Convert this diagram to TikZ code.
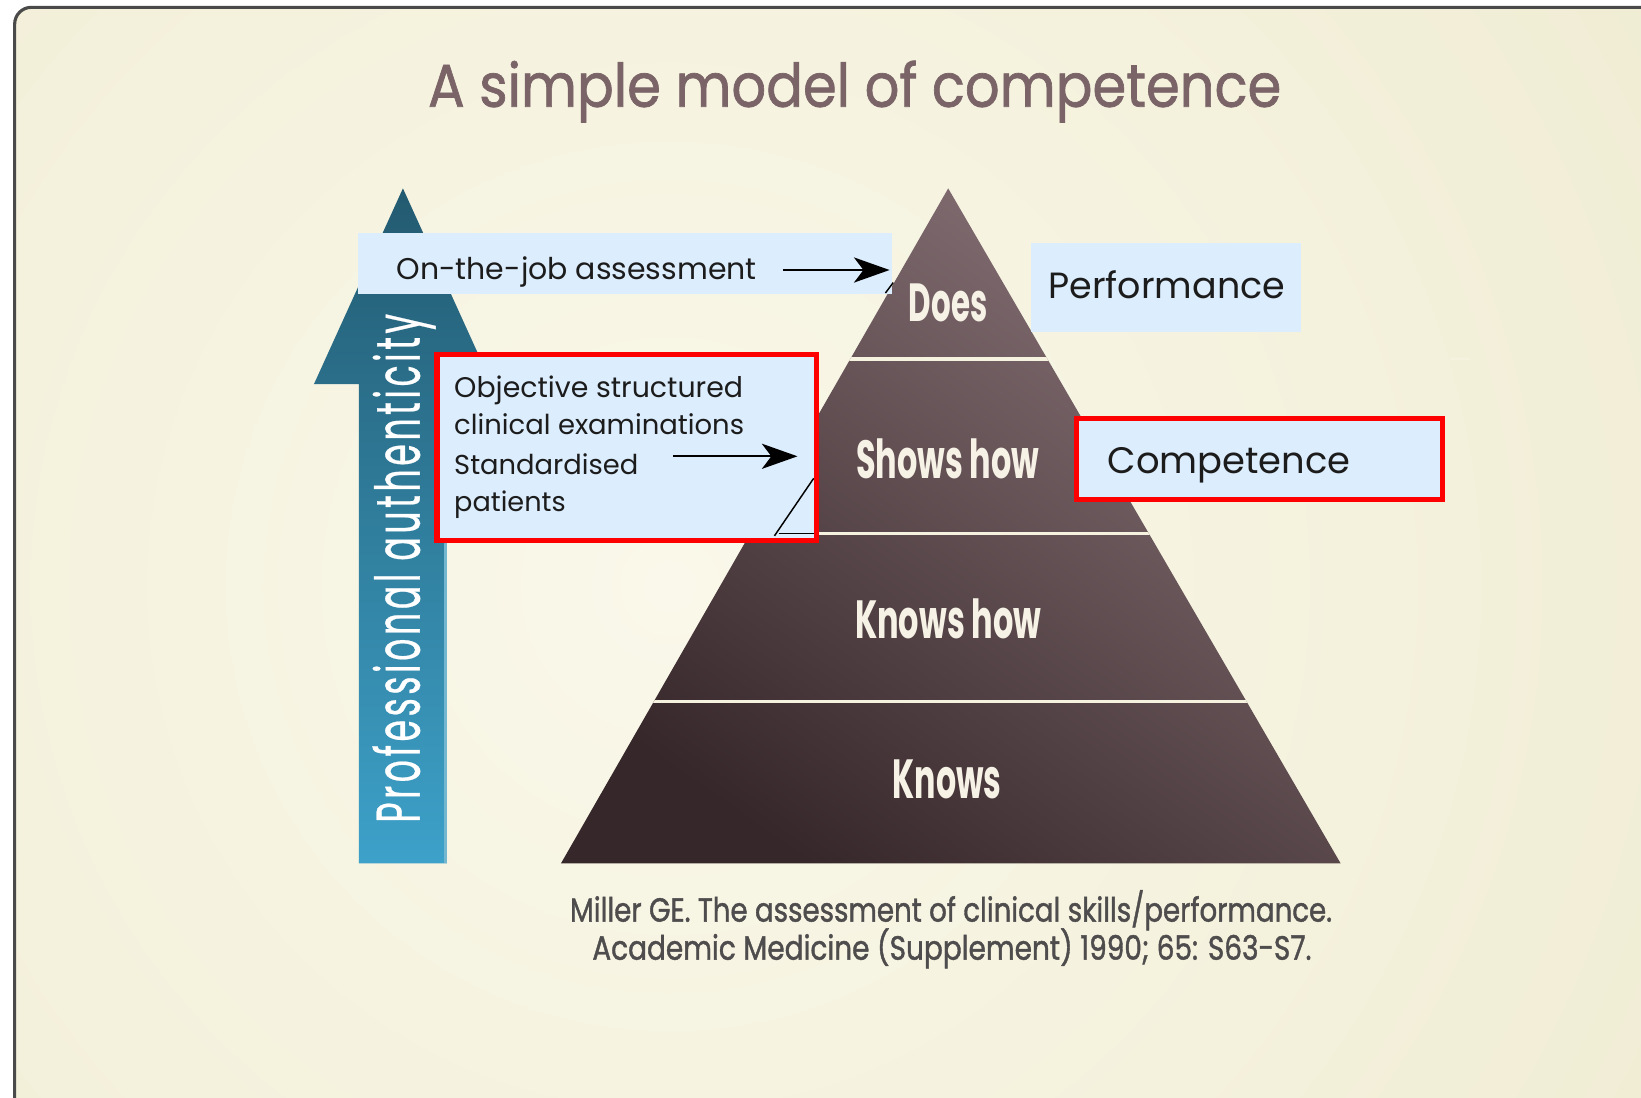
\documentclass[tikz,border=0pt]{standalone}
\usepackage{graphicx}
\usepackage{fontspec}
\setmainfont{Poppins}
\newfontfamily\popp{Poppins}
\newfontfamily\poppls[LetterSpace=10,FakeBold=0.6]{Poppins}
\newfontfamily\popptitle[FakeBold=1.2]{Poppins}
\newfontfamily\poppcite[FakeBold=1.4]{Poppins}
\usetikzlibrary{arrows.meta}
\definecolor{bgA}{HTML}{FAF8EA}
\definecolor{bgB}{HTML}{E8E3C2}
\definecolor{frameC}{HTML}{4A4A4A}
\definecolor{titleC}{HTML}{7A6468}
\definecolor{boxC}{HTML}{DCEDFD}
\definecolor{pyrDark}{HTML}{36272A}
\definecolor{pyrLight}{HTML}{877276}
\definecolor{sepC}{HTML}{F6F2E0}
\definecolor{arrTop}{HTML}{235A70}
\definecolor{arrBot}{HTML}{3DA1C9}
\definecolor{arrStrip}{HTML}{72B6D0}
\definecolor{citeC}{HTML}{4E4C4C}
\definecolor{lblC}{HTML}{F6F2E6}
\definecolor{txtC}{HTML}{1C1C1C}
\definecolor{redC}{HTML}{FF0000}
\newcommand\fitwh[3]{\resizebox{#1}{#2}{#3}}
\newcommand\fitw[2]{\resizebox{#1}{!}{#2}}
\begin{document}
\begin{tikzpicture}[x=1pt,y=-1pt,
  txt/.style={inner sep=0pt, outer sep=0pt, anchor=base west},
  boxtxt/.style={txt, text=txtC, font=\popp},
  lbl/.style={txt, text=lblC, font=\popp\bfseries},
  cite/.style={txt, text=citeC, font=\poppcite},
  bluebox/.style={fill=boxC, draw=none, inner sep=0pt, outer sep=0pt},
  redbox/.style={fill=boxC, draw=redC, line width=5pt, inner sep=0pt, outer sep=0pt},
  arr/.style={-{Stealth[length=34pt,width=24pt,inset=9pt]}, line width=2pt, black},
  outline/.style={black, line width=1.4pt}]
\useasboundingbox (0,0) rectangle (1568,1049);
\fill[white] (0,0) rectangle (1568,1049);
% background with frame
\begin{scope}
\clip[rounded corners=16pt] (14,7) rectangle (1700,1200);
\shade[inner color=bgA, outer color=bgB] (640,560) circle (2000pt);
\end{scope}
\draw[frameC, line width=3pt, rounded corners=16pt] (14,7) rectangle (1700,1200);
% title
\node[txt, text=titleC, font=\popptitle] (title) at (409,102) {\fitwh{815pt}{44pt}{A simple model of competence}};
% authenticity arrow
\shade[top color=arrTop, bottom color=arrBot] (385,180) -- (470,367) -- (427,367) -- (427,825) -- (343,825) -- (343,367) -- (300,367) -- cycle;
\fill[arrStrip] (424,367) rectangle (427,825);
\node[txt, rotate=90, text=white, font=\poppls] (auth) at (401,786) {\fitwh{486pt}{45pt}{Professional authenticity}};
% pyramid
\coordinate (apex) at (906,180);
\coordinate (bl) at (536,825);
\coordinate (br) at (1281,825);
\shade[top color=pyrLight, bottom color=pyrDark, shading angle=-35] (apex) -- (br) -- (bl) -- cycle;
\begin{scope}
\clip (apex) -- (br) -- (bl) -- cycle;
\draw[sepC, line width=3pt] (500,343) -- (1300,343);
\draw[sepC, line width=3pt] (500,510) -- (1300,510);
\draw[sepC, line width=3pt] (500,670) -- (1300,670);
\end{scope}
\node[lbl] (does) at (868.5,307) {\fitwh{75pt}{36pt}{Does}};
\node[lbl] (shows) at (818,457) {\fitwh{175pt}{38pt}{Shows how}};
\node[lbl] (knowshow) at (817,610) {\fitwh{178pt}{38pt}{Knows how}};
\node[lbl] (knows) at (853,763) {\fitwh{104pt}{37pt}{Knows}};
% white dash
\draw[sepC, line width=2.5pt] (1385,343) -- (1405,343);
% boxes
\node[bluebox, minimum width=510pt, minimum height=58pt] (ojbox) at (597,252) {};
\node[bluebox, minimum width=258pt, minimum height=85pt] (perfbox) at (1114,274.5) {};
\node[redbox, minimum width=363pt, minimum height=178pt] (oscebox) at (599,427.5) {};
\node[redbox, minimum width=350pt, minimum height=77.5pt] (compbox) at (1203.5,438.75) {};
% thin black outline fragments
\draw[outline] (846,280) -- (853.5,270);
\draw[outline] (777.5,457) -- (740,512);
\draw[outline] (744,510) -- (777.5,510);
\draw[redC, line width=5pt] (417.5,338.5) rectangle (780.5,516.5);
% box texts
\node[boxtxt] (ojtxt) at (379,267.5) {\fitw{344pt}{On-the-job assessment}};
\node[boxtxt] (osce1) at (434,379.5) {\fitw{276pt}{Objective structured}};
\node[boxtxt] (osce2) at (434,415.6) {\fitw{277pt}{clinical examinations}};
\node[boxtxt] (osce3) at (434,453) {\fitw{176pt}{Standardised}};
\node[boxtxt] (osce4) at (434,489) {\fitw{106.5pt}{patients}};
\node[boxtxt] (perf) at (1002,285) {\fitw{226pt}{Performance}};
\node[boxtxt] (comp) at (1058.5,452) {\fitw{232pt}{Competence}};
% arrows
\coordinate (ojtail) at (748,258);
\coordinate (ojtip) at (850,258);
\draw[arr] (ojtail) -- (ojtip);
\coordinate (oscetail) at (643,436);
\coordinate (oscetip) at (762,436);
\draw[arr] (oscetail) -- (oscetip);
% citation
\node[cite] (cite1) at (544.7,880.6) {\fitwh{728pt}{30pt}{Miller GE. The assessment of clinical skills/performance.}};
\node[cite] (cite2) at (566,917) {\fitwh{687pt}{30pt}{Academic Medicine (Supplement) 1990; 65: S63-S7.}};
\end{tikzpicture}
\end{document}
